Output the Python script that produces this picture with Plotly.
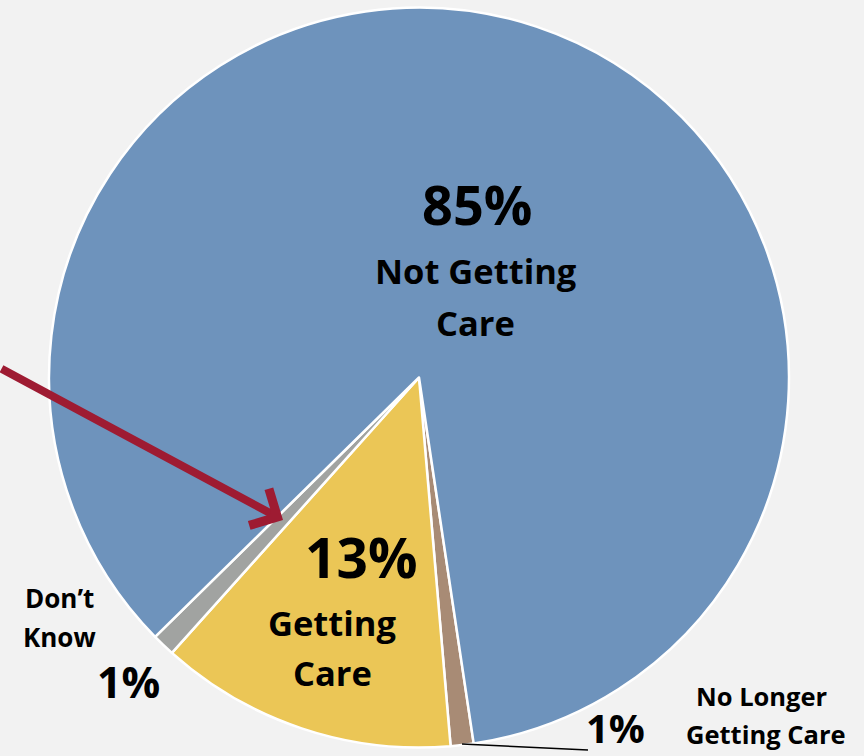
import plotly.graph_objects as go

W, H = 864, 756

# Data
labels = ["No Longer Getting Care", "Getting Care", "Don\u2019t Know", "Not Getting Care"]
values = [1, 13, 1, 85]
colors = ["#A88B75", "#EBC656", "#A1A3A1", "#6E93BC"]


def px(x):
    return x / W


def py(y):
    return 1 - y / H


cx, cy, r = 419, 377.5, 370

fig = go.Figure(
    go.Pie(
        labels=labels,
        values=values,
        sort=False,
        direction="clockwise",
        rotation=171.5,
        marker=dict(colors=colors, line=dict(color="white", width=2.5)),
        textinfo="none",
        hoverinfo="skip",
        showlegend=False,
        domain=dict(x=[px(cx - r), px(cx + r)], y=[py(cy + r), py(cy - r)]),
    )
)

FONT = "Open Sans"


def label(text, x, y, size):
    fig.add_annotation(
        text=text, x=px(x), y=py(y), xref="paper", yref="paper",
        showarrow=False, xanchor="center", yanchor="middle",
        font=dict(family=FONT, size=size, color="black", weight=700),
    )


label("85%", 477, 204, 54)
label("Not Getting", 476, 270, 34.5)
label("Care", 475, 322, 34.5)
label("13%", 361, 556, 55)
label("Getting", 332, 622, 34.5)
label("Care", 332, 672, 34.5)
label("Don\u2019t", 59, 598, 26)
label("Know", 59, 637, 26)
label("1%", 128, 681, 43)
label("1%", 615, 727, 40)
label("No Longer", 762, 696, 25.5)
label("Getting Care", 766, 734, 25.5)

# leader line for "No Longer Getting Care"
fig.add_shape(type="line", xref="paper", yref="paper",
              x0=px(462), y0=py(744), x1=px(588), y1=py(750),
              line=dict(color="black", width=1.5))

# red arrow
fig.add_annotation(
    text="", x=px(283), y=py(520), xref="paper", yref="paper",
    showarrow=True, ax=-290, ay=-152, arrowhead=4, arrowsize=1,
    arrowwidth=8, arrowcolor="#9E1B32",
)

fig.update_layout(
    width=W, height=H,
    margin=dict(l=0, r=0, t=0, b=0),
    paper_bgcolor="#F2F2F2",
    plot_bgcolor="#F2F2F2",
    showlegend=False,
)

fig.write_html(
    "out.html",
    config={"displayModeBar": False},
    post_script="document.body.style.margin='0';"
                "document.body.style.background='#F2F2F2';"
                "document.body.style.overflow='hidden';",
)
